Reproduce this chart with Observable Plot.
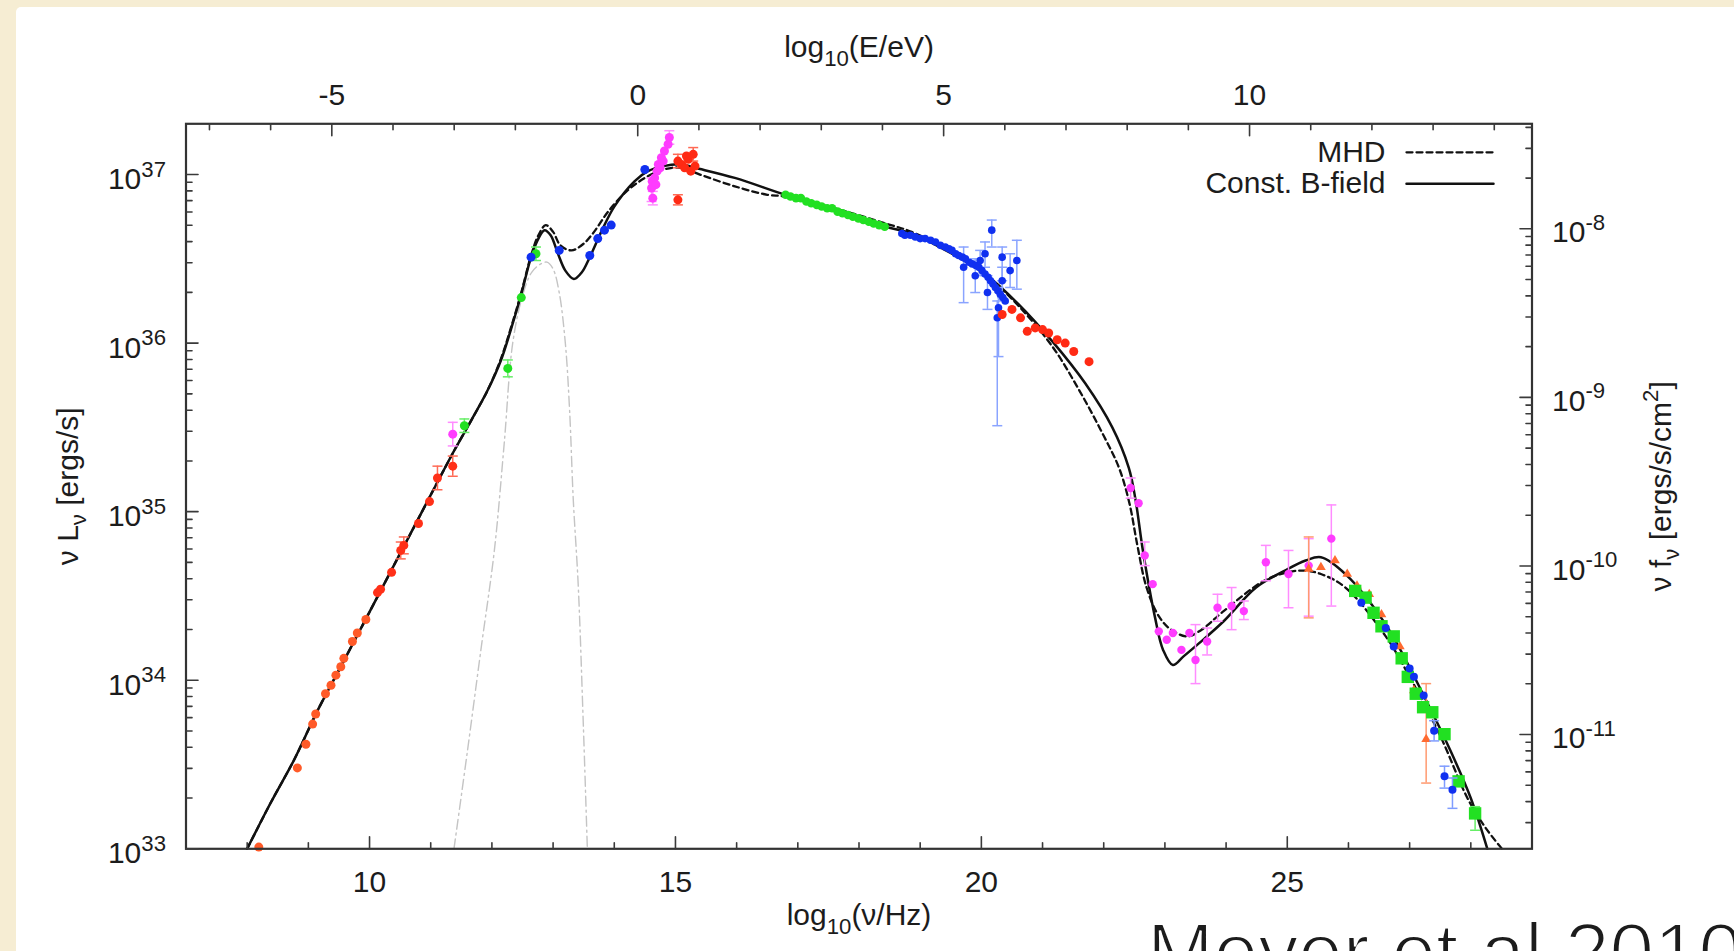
<!DOCTYPE html>
<html>
<head>
<meta charset="utf-8">
<script src="https://cdn.jsdelivr.net/npm/d3@7"></script>
<script src="https://cdn.jsdelivr.net/npm/@observablehq/plot@0.6"></script>
<style>
  html, body { margin: 0; padding: 0; width: 1734px; height: 951px; overflow: hidden; background: #f6edd3; }
  #panel { position: absolute; left: 16px; top: 7px; right: 0; bottom: 0; background: #ffffff; border-top-left-radius: 5px; }
  #chart { position: absolute; left: 0; top: 0; }
  #cite { position: absolute; left: 1147px; top: 912px; font-family: "Liberation Sans", Arial, Helvetica, sans-serif; font-size: 80px; line-height: 1; white-space: nowrap; color: #1c1c1c; -webkit-text-stroke: 2.2px #ffffff; }
</style>
</head>
<body>
<div id="panel"></div>
<div id="chart"></div>
<div id="cite">Meyer et al 2010</div>
<script>
// ---------- axis / tick values ----------
const xMajor = [10, 15, 20, 25];                 // log10(nu/Hz)
const eMajor = [-5, 0, 5, 10];                   // log10(E/eV)
const lumDecades = [33, 34, 35, 36, 37];         // log10(nu L_nu)
const fluxDecades = [-8, -9, -10, -11];          // log10(nu f_nu)
const LOG_H_EV = -14.3834;                       // log10(h / eV s)
const LOG_4PI_D2 = 44.678;                       // log10(nu L_nu / nu f_nu)

// ---------- model curves [log10 nu, log10 nuLnu] ----------
const curveConstB = [
  [8.00,33.00],[8.38,33.27],[8.77,33.53],[9.15,33.82],[9.50,34.06],[10.18,34.53],[10.80,34.96],
  [11.38,35.36],[11.66,35.54],[11.93,35.72],[12.15,35.90],[12.31,36.08],[12.48,36.29],[12.64,36.51],
  [12.76,36.62],[12.86,36.67],[12.96,36.64],[13.08,36.53],[13.20,36.43],[13.34,36.38],[13.47,36.42],
  [13.60,36.51],[13.80,36.67],[14.00,36.81],[14.33,36.96],[14.55,37.02],[14.80,37.05],[15.10,37.06],
  [15.32,37.04],[15.97,36.98],[16.79,36.88],[17.60,36.79],[18.43,36.69],[18.86,36.65],[19.52,36.53],
  [20.06,36.41],[20.61,36.23],[21.16,36.01],[21.70,35.76],[22.14,35.50],[22.41,35.26],[22.52,35.07],
  [22.64,34.77],[22.84,34.37],[22.97,34.18],[23.13,34.09],[23.30,34.14],[23.56,34.22],[23.96,34.35],
  [24.49,34.55],[24.96,34.65],[25.30,34.71],[25.55,34.73],[25.95,34.63],[26.61,34.33],[27.27,33.88],
  [27.67,33.58],[28.00,33.30],[28.27,33.00]
];
const curveMHD = [
  [8.00,33.00],[8.38,33.27],[8.77,33.53],[9.15,33.82],[9.50,34.06],[10.18,34.53],[10.80,34.96],
  [11.38,35.36],[11.66,35.54],[11.93,35.72],[12.15,35.91],[12.31,36.09],[12.48,36.30],[12.64,36.52],
  [12.76,36.64],[12.88,36.70],[13.00,36.66],[13.12,36.58],[13.30,36.55],[13.50,36.59],[13.67,36.66],
  [13.90,36.78],[14.20,36.90],[14.50,36.98],[14.80,37.03],[15.10,37.04],[15.40,37.00],[15.97,36.93],
  [16.50,36.88],[16.79,36.87],[17.60,36.80],[18.43,36.71],[18.86,36.66],[19.52,36.54],[20.06,36.41],
  [20.61,36.22],[21.16,35.98],[21.60,35.72],[22.00,35.45],[22.25,35.26],[22.42,35.05],[22.55,34.80],
  [22.70,34.55],[22.90,34.38],[23.10,34.30],[23.37,34.26],[23.60,34.30],[23.96,34.41],[24.62,34.59],
  [25.00,34.64],[25.28,34.65],[25.55,34.63],[25.95,34.55],[26.61,34.26],[27.00,34.02],[27.50,33.67],
  [27.96,33.29],[28.25,33.12],[28.51,33.00]
];
const curveDust = [
  [11.38,33.00],[11.60,33.58],[11.82,34.18],[12.04,34.77],[12.20,35.40],[12.34,36.00],[12.50,36.28],
  [12.65,36.42],[12.80,36.47],[12.90,36.48],[13.00,36.44],[13.10,36.30],[13.20,36.00],[13.27,35.60],
  [13.33,35.07],[13.41,34.57],[13.49,33.78],[13.56,33.00]
];

// ---------- data points [log10 nu, log10 nuLnu, errLow, errHigh] ----------
const radioLow = [
  [8.19,33.01],[8.82,33.48],[8.96,33.62],[9.07,33.74],[9.12,33.80],[9.28,33.92],[9.37,33.97],
  [9.45,34.03],[9.53,34.08],[9.58,34.13],[9.72,34.23],[9.80,34.28],[9.94,34.36]
];
const radioHigh = [
  [10.13,34.52],[10.18,34.54],[10.36,34.64],[10.51,34.77,34.72,34.82],[10.56,34.80,34.75,34.85],
  [10.80,34.93],[10.98,35.06],[11.11,35.20,35.13,35.27],[11.36,35.27,35.21,35.33]
];
const irGreen = [
  [11.55,35.51,35.47,35.55],[12.26,35.85,35.80,35.90],[12.48,36.27],[12.72,36.53,36.49,36.57]
];
const irMagenta = [
  [11.36,35.46,35.39,35.53]
];
const optBlue = [
  [12.64,36.51],[13.10,36.55],[13.60,36.52],[13.73,36.62],[13.84,36.67],[13.95,36.70],[14.50,37.03]
];
const optMagenta = [
  [14.61,36.92,36.84,36.98],[14.63,36.86,36.82,36.90],[14.62,36.96],[14.66,36.98],[14.68,36.94],
  [14.70,37.02],[14.72,37.06],[14.75,37.04],[14.77,37.10],[14.80,37.08],[14.82,37.14],[14.88,37.18],
  [14.90,37.22,37.18,37.26]
];
const uvRed = [
  [15.04,37.08,37.04,37.12],[15.10,37.06],[15.15,37.04],[15.21,37.09],[15.25,37.02],[15.29,37.12,37.08,37.16],
  [15.32,37.05],[15.18,37.11],[15.04,36.85,36.82,36.88]
];
const xrayGreen = [
  [16.80,36.88],[16.88,36.87],[16.97,36.86],[17.05,36.86],[17.14,36.84],[17.22,36.83],[17.31,36.82],
  [17.39,36.81],[17.48,36.80],[17.56,36.80],[17.65,36.78],[17.73,36.77],[17.82,36.76],[17.90,36.75],
  [17.99,36.74],[18.07,36.73],[18.16,36.72],[18.24,36.71],[18.33,36.70],[18.42,36.69]
];
const xrayBlue = [
  [18.70,36.65],[18.75,36.64],[18.84,36.64],[18.92,36.63],[19.00,36.62],[19.08,36.62],[19.17,36.61],
  [19.25,36.60],[19.33,36.58],[19.41,36.57],[19.47,36.56],[19.52,36.55],[19.58,36.53],[19.63,36.52],
  [19.69,36.51],[19.74,36.50],[19.80,36.48],[19.85,36.47],[19.91,36.46],[19.96,36.45],[20.01,36.43],
  [20.06,36.41],[20.11,36.39],[20.15,36.37],[20.19,36.35],[20.23,36.33],[20.27,36.31],[20.31,36.29],
  [20.35,36.27],[20.39,36.25],
  [20.17,36.67,36.57,36.73],[19.71,36.45,36.24,36.57],[20.26,36.15,35.51,36.25],[20.28,36.21,35.92,36.33],
  [20.58,36.49,36.32,36.61],[20.47,36.43,36.33,36.53],[20.34,36.51,36.37,36.57],[20.06,36.53,36.45,36.60],
  [19.98,36.49,36.40,36.55],[20.34,36.37,36.27,36.45],[19.90,36.40,36.30,36.50],[20.10,36.30,36.20,36.40]
];
const hardXRed = [
  [20.34,36.17],[20.50,36.20],[20.64,36.15],[20.75,36.07],[20.88,36.09],[21.00,36.08],[21.10,36.06],
  [21.24,36.02],[21.37,36.00],[21.51,35.95],[21.76,35.89]
];
const gammaMagenta = [
  [22.44,35.14,35.08,35.20],[22.57,35.05],[22.67,34.74,34.68,34.82],[22.80,34.57],[22.90,34.29],
  [23.03,34.24],[23.13,34.28],[23.27,34.18],[23.40,34.28],[23.50,34.12,33.98,34.33],
  [23.69,34.23,34.15,34.31],[23.86,34.43,34.35,34.51],[24.09,34.44,34.30,34.55],[24.29,34.41,34.36,34.47],
  [24.65,34.70,34.59,34.80],[25.02,34.63,34.43,34.77],[25.35,34.68,34.38,34.84],[25.72,34.84,34.44,35.04]
];
const gammaOrange = [
  [25.35,34.66,34.37,34.85],[25.55,34.67],[25.78,34.71],[25.98,34.63],[26.14,34.56],[26.34,34.51],
  [26.54,34.39],[26.84,34.20],[27.07,33.94],[27.27,33.65,33.39,33.98]
];
const vheGreen = [
  [26.11,34.53],[26.28,34.49],[26.41,34.40],[26.54,34.32],[26.74,34.26],[26.87,34.13],[26.97,34.02],
  [27.10,33.92],[27.22,33.84],[27.37,33.81],[27.57,33.68],[27.80,33.40],[28.07,33.21,33.11,33.25]
];
const vheBlue = [
  [26.21,34.46],[26.61,34.31],[26.74,34.20],[27.00,34.07],[27.07,34.02],[27.23,33.91],
  [27.40,33.70,33.64,33.76],[27.57,33.43,33.36,33.49],[27.70,33.35,33.24,33.42]
];

// ---------- helpers ----------
const lineShape = {draw(ctx, l) { ctx.moveTo(0, 0); ctx.lineTo(0, -l); }};
const capSymbol = {draw(ctx, size) { const w = Math.sqrt(size / Math.PI); ctx.moveTo(-w, 0); ctx.lineTo(w, 0); }};
const range = (a, b) => d3.range(a, b + 1);
const lumMinor = lumDecades.slice(0, -1).flatMap(n => d3.range(2, 10).map(k => n + Math.log10(k)));
const fluxMinor = d3.range(-12, -7).flatMap(n => d3.range(2, 10).map(k => n + Math.log10(k)))
  .filter(v => v + LOG_4PI_D2 > 33.001 && v + LOG_4PI_D2 < 37.29);
const xMinor = range(8, 28).filter(v => !xMajor.includes(v));
const eMinor = range(-7, 14).filter(v => !eMajor.includes(v));

const FONT = "Liberation Sans, Arial, Helvetica, sans-serif";
const INK = "#1c1c1c";
const TICK = "#3a3a3a";
const FS = 30;

function pointMarks(data, {fill, err, r = 4.5, symbol = "circle"}) {
  const withErr = data.filter(d => d.length > 3);
  return [
    Plot.ruleX(withErr, {x: d => d[0], y1: d => 10 ** d[2], y2: d => 10 ** d[3], stroke: err, strokeWidth: 1.5}),
    Plot.dot(withErr, {x: d => d[0], y: d => 10 ** d[2], symbol: capSymbol, r: 5, stroke: err, strokeWidth: 1.5}),
    Plot.dot(withErr, {x: d => d[0], y: d => 10 ** d[3], symbol: capSymbol, r: 5, stroke: err, strokeWidth: 1.5}),
    Plot.dot(data, {x: d => d[0], y: d => 10 ** d[1], r, symbol, fill, stroke: null})
  ];
}

const tickV = (data, opts) => Plot.vector(data, {anchor: "start", shape: lineShape, stroke: TICK, strokeWidth: 1.6, ...opts});
const label = (opts) => ({fontSize: FS, fill: INK, lineAnchor: "middle", ...opts});

const chart = Plot.plot({
  width: 1734,
  height: 951,
  marginLeft: 185.5,
  marginRight: 202.5,
  marginTop: 123.3,
  marginBottom: 102.7,
  x: {domain: [7, 29], axis: null},
  y: {type: "log", domain: [1e33, 2e37], axis: null},
  style: {fontFamily: FONT, background: "transparent", overflow: "visible", color: INK},
  marks: [
    // model curves
    Plot.line(curveDust, {x: d => d[0], y: d => 10 ** d[1], stroke: "#c4c4c4", strokeWidth: 1.4, strokeDasharray: "10,4,2,4", curve: "catmull-rom"}),
    Plot.line(curveMHD, {x: d => d[0], y: d => 10 ** d[1], stroke: "#111", strokeWidth: 2.3, strokeDasharray: "6,4", curve: "catmull-rom"}),
    Plot.line(curveConstB, {x: d => d[0], y: d => 10 ** d[1], stroke: "#111", strokeWidth: 2.5, curve: "catmull-rom"}),

    // data points
    ...pointMarks(radioLow, {fill: "#ff5a28", err: "#ff8a60"}),
    ...pointMarks(radioHigh, {fill: "#ff3018", err: "#ff6a55"}),
    ...pointMarks(irMagenta, {fill: "#ff3cff", err: "#ff8cff"}),
    ...pointMarks(irGreen, {fill: "#22e022", err: "#66ee66"}),
    ...pointMarks(optBlue, {fill: "#1030f0", err: "#7f9cff"}),
    ...pointMarks(optMagenta, {fill: "#ff3cff", err: "#ff8cff"}),
    ...pointMarks(uvRed, {fill: "#ff2a14", err: "#ff6a55"}),
    ...pointMarks(xrayGreen, {fill: "#22e022", err: "#66ee66", r: 4.3}),
    ...pointMarks(xrayBlue, {fill: "#1030f0", err: "#8aa4ff", r: 3.8}),
    ...pointMarks(hardXRed, {fill: "#ff2a14", err: "#ff6a55"}),
    ...pointMarks(gammaMagenta, {fill: "#ff3cff", err: "#ff8cff", r: 4.2}),
    ...pointMarks(gammaOrange, {fill: "#ff6a30", err: "#ff9a70", r: 3.6, symbol: "triangle"}),
    ...pointMarks(vheGreen, {fill: "#22e022", err: "#66ee66", r: 7, symbol: "square"}),
    ...pointMarks(vheBlue, {fill: "#1030f0", err: "#7f9cff", r: 4}),

    // frame
    Plot.frame({stroke: "#333", strokeWidth: 2.2}),

    // ticks (pointing inward)
    tickV(lumDecades, {y: d => 10 ** d, frameAnchor: "left", rotate: 90, length: 12}),
    tickV(lumMinor, {y: d => 10 ** d, frameAnchor: "left", rotate: 90, length: 6}),
    tickV(fluxDecades, {y: d => 10 ** (d + LOG_4PI_D2), frameAnchor: "right", rotate: -90, length: 12}),
    tickV(fluxMinor, {y: d => 10 ** (d + LOG_4PI_D2), frameAnchor: "right", rotate: -90, length: 6}),
    tickV(xMajor, {x: d => d, frameAnchor: "bottom", rotate: 0, length: 12}),
    tickV(xMinor, {x: d => d, frameAnchor: "bottom", rotate: 0, length: 6}),
    tickV(eMajor, {x: d => d - LOG_H_EV, frameAnchor: "top", rotate: 180, length: 12}),
    tickV(eMinor, {x: d => d - LOG_H_EV, frameAnchor: "top", rotate: 180, length: 6}),

    // tick labels
    Plot.text(lumDecades, label({y: d => 10 ** d, frameAnchor: "left", dx: -20, dy: 5, textAnchor: "end", text: d => `10^{${d}}`})),
    Plot.text(fluxDecades, label({y: d => 10 ** (d + LOG_4PI_D2), frameAnchor: "right", dx: 20, dy: 4, textAnchor: "start", text: d => `10^{${d}}`})),
    Plot.text(xMajor, label({x: d => d, frameAnchor: "bottom", dy: 34, textAnchor: "middle", text: d => String(d)})),
    Plot.text(eMajor, label({x: d => d - LOG_H_EV, frameAnchor: "top", dy: -28, textAnchor: "middle", text: d => String(d)})),

    // axis titles
    Plot.text(["log_{10}(ν/Hz)"], label({frameAnchor: "bottom", dy: 67, textAnchor: "middle", text: d => d})),
    Plot.text(["log_{10}(E/eV)"], label({frameAnchor: "top", dy: -76, textAnchor: "middle", text: d => d})),
    Plot.text(["ν L_{ν} [ergs/s]"], label({frameAnchor: "left", dx: -118, rotate: -90, textAnchor: "middle", text: d => d})),
    Plot.text(["ν f_{ν} [ergs/s/cm^{2}]"], label({frameAnchor: "right", dx: 129, rotate: -90, textAnchor: "middle", text: d => d})),

    // legend
    Plot.text(["MHD"], label({frameAnchor: "top-right", dx: -146.5, dy: 28.5, textAnchor: "end", text: d => d})),
    Plot.text(["Const. B-field"], label({frameAnchor: "top-right", dx: -146.5, dy: 60, textAnchor: "end", text: d => d})),
    Plot.vector(["MHD"], {frameAnchor: "top-right", dx: -125.5, dy: 28.5, rotate: 90, length: 87, anchor: "start", shape: lineShape, stroke: "#111", strokeWidth: 2.3, strokeDasharray: "6,4"}),
    Plot.vector(["Const. B-field"], {frameAnchor: "top-right", dx: -125.5, dy: 60, rotate: 90, length: 87, anchor: "start", shape: lineShape, stroke: "#111", strokeWidth: 2.5})
  ]
});

document.getElementById("chart").appendChild(chart);

// turn ^{..} / _{..} markup into real super/subscript tspans
function richText(svg) {
  const NS = "http://www.w3.org/2000/svg";
  svg.querySelectorAll("text").forEach(t => {
    const s = t.textContent;
    if (!/[\^_]\{/.test(s)) return;
    const fs = parseFloat(getComputedStyle(t).fontSize) || FS;
    t.textContent = "";
    let shift = 0, last = 0, m;
    const add = (str, mode) => {
      const ts = document.createElementNS(NS, "tspan");
      const target = mode === "^" ? -0.42 * fs : mode === "_" ? 0.27 * fs : 0;
      if (target !== shift) ts.setAttribute("dy", target - shift);
      shift = target;
      if (mode) ts.setAttribute("font-size", (fs * 0.74).toFixed(1));
      ts.textContent = str;
      t.appendChild(ts);
    };
    const re = /([\^_])\{([^}]*)\}/g;
    while ((m = re.exec(s))) {
      if (m.index > last) add(s.slice(last, m.index), null);
      add(m[2], m[1]);
      last = re.lastIndex;
    }
    if (last < s.length) add(s.slice(last), null);
  });
}
richText(chart);
</script>
</body>
</html>
